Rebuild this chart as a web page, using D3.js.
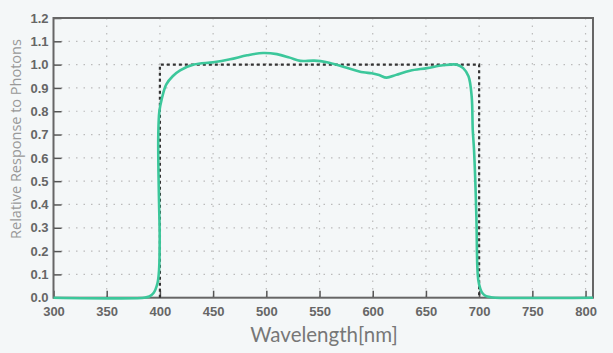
<!DOCTYPE html>
<meta charset="utf-8">
<style>
body { margin: 0; background: #f4f7f8; }
svg { display: block; }
</style>
<svg width="613" height="353"></svg>
<script src="https://d3js.org/d3.v7.min.js"></script>
<script>

// measured response curve (wavelength nm, relative response)
var wavelength = [300, 385, 390, 394, 397.7, 399.2, 399.8, 399.2, 398.6, 398.5, 399.5, 401.6, 406, 412, 419, 432,
                  450, 466, 482, 497, 510, 522, 532, 545, 557, 573, 591, 599, 606, 613, 622, 635, 651, 666, 679,
                  685, 690, 693, 694, 695.2, 697.4, 698.3, 699.2, 701, 703, 706, 711, 715, 807];
var response   = [0, 0, 0.005, 0.02, 0.062, 0.12, 0.26, 0.405, 0.55, 0.705, 0.80, 0.85, 0.915, 0.95, 0.975, 1.0,
                  1.01, 1.023, 1.04, 1.05, 1.045, 1.03, 1.016, 1.017, 1.01, 0.99, 0.967, 0.963, 0.955, 0.944, 0.956,
                  0.974, 0.985, 0.997, 1.0, 0.985, 0.95, 0.863, 0.72, 0.634, 0.348, 0.133, 0.076, 0.04, 0.02, 0.008,
                  0.002, 0, 0];

// ideal band (dotted box)
var idealX = [400, 400, 700, 700];
var idealY = [0, 1.0, 1.0, 0];

var xTicks = [300, 350, 400, 450, 500, 550, 600, 650, 700, 750, 800];
var yTicks = [0, 0.1, 0.2, 0.3, 0.4, 0.5, 0.6, 0.7, 0.8, 0.9, 1.0, 1.1, 1.2];

var svg = d3.select("svg");
var pLeft = 53.5, pRight = 593, pTop = 18, pBottom = 297.7;

var x = d3.scaleLinear().domain([300, 807]).range([pLeft, pRight]);
var y = d3.scaleLinear().domain([0, 1.2]).range([pBottom, pTop]);

svg.append("rect").attr("width", 613).attr("height", 353).attr("fill", "#f4f7f8");

// grid
svg.append("g").selectAll("line")
   .data(xTicks.slice(1))
   .join("line")
   .attr("x1", d => x(d)).attr("x2", d => x(d))
   .attr("y1", pTop).attr("y2", pBottom)
   .attr("stroke", "#bbb").attr("stroke-width", 1.2)
   .style("stroke-dasharray", "1.5,6");

svg.append("g").selectAll("line")
   .data(yTicks.slice(1))
   .join("line")
   .attr("x1", pLeft).attr("x2", pRight)
   .attr("y1", d => y(d)).attr("y2", d => y(d))
   .attr("stroke", "#bbb").attr("stroke-width", 1.2)
   .style("stroke-dasharray", "1.5,6");

function styleTicks(g) {
  g.select(".domain").remove();
  g.selectAll(".tick line").attr("stroke", "#555").attr("stroke-width", 1.5);
  g.selectAll(".tick text")
   .style("font-family", "'Liberation Sans', Arial, sans-serif")
   .style("font-size", "13px")
   .style("font-weight", "bold")
   .attr("fill", "#666");
}

// axes with inner ticks
svg.append("g")
   .attr("transform", "translate(0," + pBottom + ")")
   .call(d3.axisBottom(x).tickValues(xTicks).tickSize(-7).tickPadding(9).tickFormat(d3.format("d")))
   .call(styleTicks);

svg.append("g")
   .attr("transform", "translate(" + pLeft + ",0)")
   .call(d3.axisLeft(y).tickValues(yTicks).tickSize(-8).tickPadding(5).tickFormat(d3.format(".1f")))
   .call(styleTicks);

// frame
svg.append("rect")
   .attr("x", pLeft).attr("y", pTop)
   .attr("width", pRight - pLeft).attr("height", pBottom - pTop)
   .attr("fill", "none").attr("stroke", "#666").attr("stroke-width", 2);

// ideal response
svg.append("path")
   .datum(d3.range(idealX.length))
   .attr("fill", "none")
   .attr("stroke", "#333")
   .attr("stroke-width", 2.2)
   .style("stroke-dasharray", "3,3")
   .attr("d", d3.line().x(i => x(idealX[i])).y(i => y(idealY[i])));

// measured curve
svg.append("path")
   .datum(d3.range(wavelength.length))
   .attr("fill", "none")
   .attr("stroke", "#3cc79b")
   .attr("stroke-width", 2.6)
   .attr("stroke-linejoin", "round")
   .attr("d", d3.line().x(i => x(wavelength[i])).y(i => y(response[i])).curve(d3.curveCatmullRom.alpha(0.5)));

// labels
svg.append("text")
   .attr("x", 324)
   .attr("y", 342)
   .attr("text-anchor", "middle")
   .style("font-family", "Lato, 'Open Sans', sans-serif")
   .style("font-size", "20.5px")
   .attr("fill", "#777")
   .text("Wavelength[nm]");

svg.append("text")
   .attr("transform", "translate(21,139) rotate(-90)")
   .attr("text-anchor", "middle")
   .style("font-family", "'Open Sans', sans-serif")
   .style("font-size", "14.5px")
   .attr("fill", "#999")
   .text("Relative Response to Photons");

</script>
